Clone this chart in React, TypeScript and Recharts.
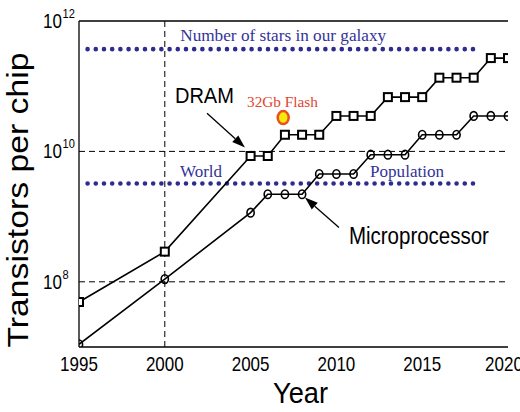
import React from 'react';
import { LineChart, Line, XAxis, YAxis, ReferenceLine, ReferenceDot } from 'recharts';

const years = [1995, 2000, 2005, 2006, 2007, 2008, 2009, 2010, 2011, 2012, 2013, 2014, 2015, 2016, 2017, 2018, 2019, 2020];
const dram = [4.9e7, 2.9e8, 8.5e9, 8.5e9, 1.8e10, 1.8e10, 1.8e10, 3.5e10, 3.5e10, 3.5e10, 6.8e10, 6.8e10, 6.8e10, 1.35e11, 1.35e11, 1.35e11, 2.7e11, 2.7e11];
const micro = [1.1e7, 1.1e8, 1.15e9, 2.2e9, 2.2e9, 2.2e9, 4.5e9, 4.5e9, 4.5e9, 8.9e9, 8.9e9, 8.9e9, 1.8e10, 1.8e10, 1.8e10, 3.5e10, 3.5e10, 3.5e10];

const xTicks = [1995, 2000, 2005, 2010, 2015, 2020];
const yTicks = [1e8, 1e10, 1e12];

// reference levels (dotted blue)
const starsLevel = [{ year: 1995.5, v: 3.7e11 }, { year: 2018, v: 3.7e11 }];
const popLevel = [{ year: 1995.5, v: 3.22e9 }, { year: 2018, v: 3.22e9 }];

const flash = { year: 2006.9, v: 3.3e10 };

const dramArrow = [{ x: 2002.46, y: 3.84e10 }, { x: 2004.67, y: 1.15e10 }];
const microArrow = [{ x: 2010.15, y: 6.8e8 }, { x: 2008.17, y: 1.96e9 }];

const data = years.map((year, i) => ({ year, dram: dram[i], micro: micro[i] }));

const SANS = 'Liberation Sans, Arial, sans-serif';
const SERIF = 'Liberation Serif, Times New Roman, serif';
const BLUE = '#333399';

const XTick = (props: any) => {
  const { x, y, payload } = props;
  return (
    <g transform={`translate(${x},${y + 16}) scale(0.85,1)`}>
      <text x={0} y={0} textAnchor="middle" fontFamily={SANS} fontSize={20} fill="#000">
        {payload.value}
      </text>
    </g>
  );
};

const YTick = (props: any) => {
  const { y, payload } = props;
  const exp = Math.round(Math.log10(payload.value));
  return (
    <g>
      <g transform={`translate(62,${y + 7}) scale(0.85,1)`}>
        <text x={0} y={0} textAnchor="end" fontFamily={SANS} fontSize={20} fill="#000">10</text>
      </g>
      <g transform={`translate(62.5,${y - 3}) scale(0.85,1)`}>
        <text x={0} y={0} textAnchor="start" fontFamily={SANS} fontSize={13} fill="#000">{exp}</text>
      </g>
    </g>
  );
};

const Square = (props: any) => {
  const { cx, cy, index } = props;
  if (cx == null || cy == null) return <g key={`s${index}`} />;
  return <rect key={`s${index}`} x={cx - 4} y={cy - 4} width={8} height={8} fill="#fff" stroke="#000" strokeWidth={2} />;
};

const Circle = (props: any) => {
  const { cx, cy, index } = props;
  if (cx == null || cy == null) return <g key={`c${index}`} />;
  return <ellipse key={`c${index}`} cx={cx} cy={cy} rx={3.6} ry={4.3} fill="none" stroke="#000" strokeWidth={1.6} />;
};

const Arrow = (props: any) => {
  const { x1, y1, x2, y2 } = props;
  const a = Math.atan2(y2 - y1, x2 - x1);
  const len = 13;
  const hw = 4.5;
  const bx = x2 - len * Math.cos(a);
  const by = y2 - len * Math.sin(a);
  const px = -Math.sin(a) * hw;
  const py = Math.cos(a) * hw;
  return (
    <g>
      <line x1={x1} y1={y1} x2={bx} y2={by} stroke="#000" strokeWidth={1.3} />
      <polygon points={`${x2},${y2} ${bx + px},${by + py} ${bx - px},${by - py}`} fill="#000" />
    </g>
  );
};

const note = (text: string, opts: { family: string; size: number; fill: string; len: number; anchor?: string }) =>
  (props: any) => {
    const { cx, cy } = props;
    return (
      <text
        x={cx}
        y={cy}
        textAnchor={opts.anchor || 'start'}
        fontFamily={opts.family}
        fontSize={opts.size}
        fill={opts.fill}
        textLength={opts.len}
        lengthAdjust="spacingAndGlyphs"
      >
        {text}
      </text>
    );
  };

const FlashDot = (props: any) => {
  const { cx, cy } = props;
  return <ellipse cx={cx} cy={cy} rx={5.5} ry={6.5} fill="#f7e80c" stroke="#e8501f" strokeWidth={2.5} />;
};

const YearLabel = (props: any) => {
  const { viewBox } = props;
  const cx = viewBox.x + viewBox.width / 2 + 7;
  return (
    <text x={cx} y={viewBox.y + 56} textAnchor="middle" fontFamily={SANS} fontSize={30} fill="#000" textLength={55} lengthAdjust="spacingAndGlyphs">
      Year
    </text>
  );
};

const YLabel = (props: any) => {
  const { viewBox } = props;
  const cy = viewBox.y + viewBox.height / 2 + 16;
  return (
    <text
      transform={`translate(28,${cy}) rotate(-90)`}
      x={0}
      y={0}
      textAnchor="middle"
      fontFamily={SANS}
      fontSize={29}
      fill="#000"
      textLength={295}
      lengthAdjust="spacingAndGlyphs"
    >
      Transistors per chip
    </text>
  );
};

export default function App() {
  return (
    <div style={{ position: 'absolute', left: 0, top: 0, width: 520, height: 412, background: '#fff' }}>
      <LineChart width={520} height={412} data={data} margin={{ top: 21, right: 12, bottom: 0, left: 0 }}>
        <XAxis
          dataKey="year"
          type="number"
          domain={[1995, 2020]}
          ticks={xTicks}
          allowDataOverflow
          height={65}
          tickLine={false}
          axisLine={{ stroke: '#000', strokeWidth: 1.3 }}
          tick={<XTick />}
          label={{ content: <YearLabel /> }}
        />
        <YAxis
          type="number"
          scale="log"
          domain={[1e7, 1e12]}
          ticks={yTicks}
          allowDataOverflow
          width={79}
          tickLine={false}
          axisLine={{ stroke: '#000', strokeWidth: 1.3 }}
          tick={<YTick />}
          label={{ content: <YLabel /> }}
        />
        <ReferenceLine y={1e12} stroke="#000" strokeWidth={1.3} />
        <ReferenceLine y={1e10} stroke="#000" strokeWidth={1} strokeDasharray="6 4" />
        <ReferenceLine y={1e8} stroke="#000" strokeWidth={1} strokeDasharray="6 4" />
        <ReferenceLine x={2000} stroke="#000" strokeWidth={1} strokeDasharray="6 4" />

        <Line data={starsLevel} dataKey="v" stroke="#2d2d8f" strokeWidth={4.6} strokeDasharray="0 8.2" strokeLinecap="round" dot={false} activeDot={false} isAnimationActive={false} />
        <Line data={popLevel} dataKey="v" stroke="#2d2d8f" strokeWidth={4.6} strokeDasharray="0 8.2" strokeLinecap="round" dot={false} activeDot={false} isAnimationActive={false} />

        <Line dataKey="micro" stroke="#000" strokeWidth={1.6} dot={<Circle />} activeDot={false} isAnimationActive={false} />
        <Line dataKey="dram" stroke="#000" strokeWidth={1.6} dot={<Square />} activeDot={false} isAnimationActive={false} />

        <ReferenceLine segment={dramArrow} shape={<Arrow />} />
        <ReferenceLine segment={microArrow} shape={<Arrow />} />

        <ReferenceDot x={flash.year} y={flash.v} r={6} shape={<FlashDot />} />

        <ReferenceDot x={2006.9} y={4.9e11} r={1} shape={note('Number of stars in our galaxy', { family: SERIF, size: 17, fill: BLUE, len: 206, anchor: 'middle' })} />
        <ReferenceDot x={2000.89} y={3.98e9} r={1} shape={note('World', { family: SERIF, size: 17, fill: BLUE, len: 42 })} />
        <ReferenceDot x={2011.96} y={4.1e9} r={1} shape={note('Population', { family: SERIF, size: 17, fill: BLUE, len: 74 })} />
        <ReferenceDot x={2000.59} y={5.47e10} r={1} shape={note('DRAM', { family: SANS, size: 22, fill: '#000', len: 59 })} />
        <ReferenceDot x={2004.79} y={4.75e10} r={1} shape={note('32Gb Flash', { family: SERIF, size: 15, fill: '#e0452e', len: 71 })} />
        <ReferenceDot x={2010.73} y={3.85e8} r={1} shape={note('Microprocessor', { family: SANS, size: 23, fill: '#000', len: 140 })} />
      </LineChart>
    </div>
  );
}
